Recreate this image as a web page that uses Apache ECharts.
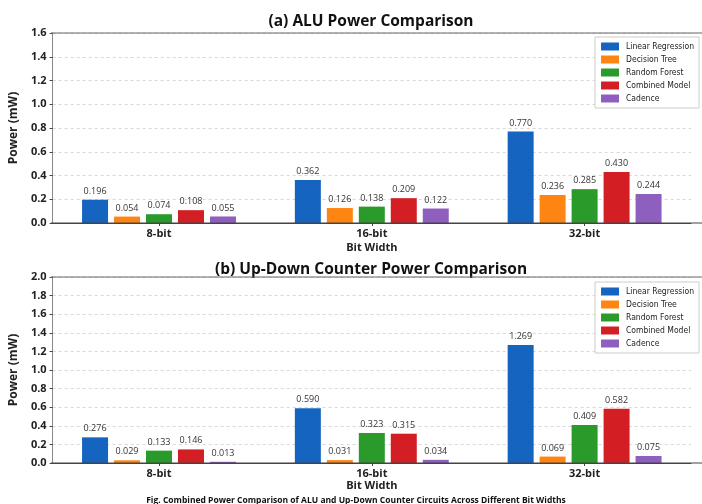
<!DOCTYPE html>
<html>
<head>
<meta charset="utf-8">
<script src="https://cdn.jsdelivr.net/npm/echarts@6/dist/echarts.min.js"></script>
<style>
  html, body { margin: 0; padding: 0; background: #fff; }
  #chart { width: 702px; height: 504px; }
</style>
</head>
<body>
<div id="chart"></div>
<script>
// Bit-width groups on the x axis
const bitWidths = ['8-bit', '16-bit', '32-bit'];
const modelNames = ['Linear Regression', 'Decision Tree', 'Random Forest', 'Combined Model', 'Cadence'];
const modelColors = ['#1565c0', '#ff8512', '#2a9a2a', '#d31f24', '#8f5fc0'];

// (a) ALU power, mW
const aluLinearRegression = [0.196, 0.362, 0.770];
const aluDecisionTree     = [0.054, 0.126, 0.236];
const aluRandomForest     = [0.074, 0.138, 0.285];
const aluCombinedModel    = [0.108, 0.209, 0.430];
const aluCadence          = [0.055, 0.122, 0.244];

// (b) Up-Down counter power, mW
const udcLinearRegression = [0.276, 0.590, 1.269];
const udcDecisionTree     = [0.029, 0.031, 0.069];
const udcRandomForest     = [0.133, 0.323, 0.409];
const udcCombinedModel    = [0.146, 0.315, 0.582];
const udcCadence          = [0.013, 0.034, 0.075];

const aluSeries = [aluLinearRegression, aluDecisionTree, aluRandomForest, aluCombinedModel, aluCadence];
const udcSeries = [udcLinearRegression, udcDecisionTree, udcRandomForest, udcCombinedModel, udcCadence];

const FONT = "'Open Sans', 'DejaVu Sans', sans-serif";
const NARROW = "'DejaVu Sans Condensed', Roboto, sans-serif";
const chart = echarts.init(document.getElementById('chart'), null, { renderer: 'canvas' });

function makeBars(values, gridIdx) {
  return values.map((vals, i) => ({
    name: modelNames[i],
    type: 'bar',
    xAxisIndex: gridIdx,
    yAxisIndex: gridIdx,
    data: vals,
    barWidth: 26,
    barGap: '23%',
    itemStyle: { color: modelColors[i] },
    label: {
      show: true,
      position: 'top',
      distance: 4,
      fontSize: 9,
      fontFamily: FONT,
      color: '#333',
      formatter: p => p.value.toFixed(3)
    }
  }));
}

function xAxisCfg(gridIdx, nameGap) {
  return {
    type: 'category',
    gridIndex: gridIdx,
    data: bitWidths,
    name: 'Bit Width',
    nameLocation: 'middle',
    nameGap: nameGap,
    nameTextStyle: { fontSize: 11, fontWeight: 'bold', color: '#222', fontFamily: FONT },
    axisLine: { lineStyle: { color: '#444', width: 1 } },
    axisTick: { show: true, alignWithLabel: true, length: 3, lineStyle: { color: '#444' } },
    axisLabel: { fontSize: 11, color: '#222', fontFamily: FONT, fontWeight: 'bold', margin: 5 },
    splitLine: { show: false }
  };
}

function yAxisCfg(gridIdx, max) {
  return {
    type: 'value',
    gridIndex: gridIdx,
    min: 0,
    max: max,
    interval: 0.2,
    name: 'Power (mW)',
    nameLocation: 'middle',
    nameGap: 30,
    nameTextStyle: { fontSize: 12, fontWeight: 'bold', color: '#222', fontFamily: FONT },
    axisLine: { show: true, lineStyle: { color: '#888', width: 1 } },
    axisTick: { show: true, length: 3, lineStyle: { color: '#444' } },
    axisLabel: { fontSize: 11, color: '#222', fontFamily: FONT, fontWeight: 'bold', margin: 6,
                 formatter: v => v.toFixed(1) },
    splitLine: { show: true, lineStyle: { color: '#d8d8d8', type: [3, 3], width: 1 } }
  };
}

function legendCfg(top) {
  return {
    orient: 'vertical',
    right: 3,
    top: top,
    data: modelNames,
    itemWidth: 18,
    itemHeight: 8,
    itemGap: 4,
    padding: [5, 5, 5, 6],
    borderColor: '#cccccc',
    borderWidth: 1,
    backgroundColor: '#fff',
    icon: 'rect',
    textStyle: { fontSize: 8.5, color: '#222', fontFamily: NARROW, padding: [0, 0, 0, 2] },
    selectedMode: false
  };
}

chart.setOption({
  animation: false,
  backgroundColor: '#fff',
  color: modelColors,
  title: [
    { text: '(a) ALU Power Comparison', left: 366, top: 9, textAlign: 'center',
      textStyle: { fontSize: 15.5, fontWeight: 'bold', color: '#111', fontFamily: FONT } },
    { text: '(b) Up-Down Counter Power Comparison', left: 366, top: 257, textAlign: 'center',
      textStyle: { fontSize: 15.5, fontWeight: 'bold', color: '#111', fontFamily: FONT } },
    { text: 'Fig. Combined Power Comparison of ALU and Up-Down Counter Circuits Across Different Bit Widths',
      left: 351, top: 491, textAlign: 'center',
      textStyle: { fontSize: 8.5, fontWeight: 'bold', color: '#111', fontFamily: FONT } }
  ],
  legend: [legendCfg(37), legendCfg(282)],
  grid: [
    { left: 51, right: 11, top: 33, height: 190 },
    { left: 51, right: 11, top: 277, height: 186 }
  ],
  xAxis: [xAxisCfg(0, 19), xAxisCfg(1, 16)],
  yAxis: [yAxisCfg(0, 1.6), yAxisCfg(1, 2.0)],
  series: makeBars(aluSeries, 0).concat(makeBars(udcSeries, 1))
});

// Top and bottom frame lines run across to the right edge of the page
const W = 702;
const frame = [];
[[0, 1.6], [1, 2.0]].forEach(([g, max]) => {
  const yTop = chart.convertToPixel({ yAxisIndex: g }, max);
  const yBot = chart.convertToPixel({ yAxisIndex: g }, 0);
  frame.push({ type: 'line', shape: { x1: 51, y1: yTop, x2: W, y2: yTop },
               style: { stroke: '#666', lineWidth: 1.2 }, z: 10 });
  frame.push({ type: 'line', shape: { x1: 51, y1: yBot, x2: W, y2: yBot },
               style: { stroke: '#444', lineWidth: 1 }, z: 10 });
});
chart.setOption({ graphic: frame });
</script>
</body>
</html>
